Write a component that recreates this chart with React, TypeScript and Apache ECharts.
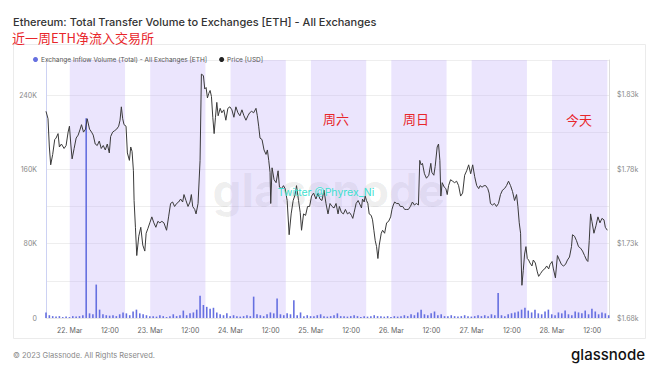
import React, { useEffect, useRef } from 'react';
import * as echarts from 'echarts';

// hours counted from 21 Mar 00:00
const START_HOUR = 16.9;
const AXIS_MIN_HOUR = 16.9;
const AXIS_MAX_HOUR = 185;
const xTickHours = [24, 36, 48, 60, 72, 84, 96, 108, 120, 132, 144, 156, 168, 180];
const leftTickValues = [0, 80, 160, 240];
const rightTickValues = [1680, 1730, 1780, 1830];
const shadedDays = [1, 2, 3, 4, 5, 6, 7];
const SHADE_HOURS = 16.5;

const inflowName = 'Exchange Inflow Volume (Total) - All Exchanges [ETH]';
const priceName = 'Price [USD]';

// [hours after data start, price USD]
const priceSeries: number[][] = [
  [0,1819],[0.6,1814],[1,1795],[1.4,1783],[2,1790],[2.6,1800],[3,1801],[3.6,1804],[4,1795],[4.6,1797],[5.4,1794],[6,1796],[6.6,1805],[7,1809],[7.4,1797],[7.8,1787],[8.4,1794],[9,1801],[9.6,1803],[10.2,1807],[10.6,1810],[11.2,1805],[11.8,1807],[12.3,1814],[13,1807],[13.6,1805],[14.1,1803],[14.7,1797],[15.3,1796],[15.9,1799],[16.5,1794],[17.1,1796],[17.7,1793],[18.3,1797],[18.9,1791],[19.3,1802],[19.9,1805],[20.5,1806],[21.1,1807],[21.7,1809],[22.1,1813],[22.5,1822],[22.9,1814],[23.3,1810],[23.9,1809],[24.3,1791],[24.9,1786],[25.3,1795],[25.7,1792],[26.1,1779],[26.3,1759],[26.7,1741],[27.1,1722],[27.7,1735],[28.3,1741],[28.9,1729],[29.5,1725],[29.9,1737],[30.4,1740],[31,1744],[31.6,1748],[32.2,1744],[32.8,1741],[33.4,1745],[34,1744],[34.6,1745],[35.2,1744],[36,1739],[36.6,1748],[37.2,1757],[37.8,1758],[38.4,1755],[39,1757],[39.6,1758],[40.2,1760],[40.8,1758],[41.2,1763],[41.8,1759],[42.4,1755],[43,1758],[43.4,1763],[43.8,1755],[44.4,1753],[44.8,1750],[45.4,1757],[46,1786],[46.4,1844],[47,1843],[47.4,1834],[47.8,1835],[48.2,1828],[48.6,1831],[49,1833],[49.4,1829],[49.8,1815],[50.2,1804],[50.6,1815],[51,1825],[51.4,1816],[52,1821],[52.5,1818],[53.1,1820],[53.7,1813],[54.3,1821],[54.9,1822],[55.5,1820],[56.1,1815],[56.7,1822],[57.3,1818],[57.9,1816],[58.5,1820],[59.1,1816],[59.7,1813],[60.3,1816],[60.8,1818],[61.4,1819],[62,1818],[62.7,1821],[63.1,1816],[63.5,1809],[63.9,1801],[64.5,1800],[65.1,1793],[65.7,1790],[66.1,1793],[66.5,1786],[66.9,1778],[67.1,1757],[67.5,1781],[68.1,1773],[68.7,1771],[69.3,1779],[69.7,1768],[70.3,1767],[70.9,1769],[71.4,1767],[72,1759],[72.6,1736],[73.2,1750],[73.8,1759],[74.4,1763],[74.8,1769],[75.4,1759],[75.9,1751],[76.3,1739],[76.9,1750],[77.5,1749],[78.1,1755],[78.7,1755],[79.3,1762],[79.9,1764],[80.6,1760],[81.2,1764],[81.8,1760],[82.4,1759],[83,1766],[83.6,1757],[84.2,1750],[84.8,1757],[85.4,1755],[86,1754],[86.6,1757],[87.2,1750],[87.6,1755],[88.2,1751],[88.8,1750],[89.4,1753],[90,1750],[90.6,1751],[91.2,1749],[91.6,1747],[92,1751],[92.6,1757],[93.2,1759],[93.8,1756],[94.2,1754],[94.5,1760],[95,1758],[95.3,1762],[95.7,1759],[96.1,1757],[96.5,1750],[97.1,1749],[97.5,1746],[97.9,1739],[98.3,1732],[98.7,1728],[99.1,1720],[99.5,1729],[100.1,1737],[100.5,1739],[101.1,1737],[101.7,1744],[102.3,1745],[102.9,1748],[103.3,1753],[103.7,1756],[104.1,1758],[104.7,1757],[105.3,1757],[105.8,1755],[106.5,1755],[107.1,1753],[107.7,1753],[108.2,1753],[108.8,1755],[109.4,1758],[110,1756],[110.6,1757],[111.2,1756],[111.6,1786],[112,1783],[112.4,1784],[113,1777],[113.6,1774],[114.3,1776],[114.9,1784],[115.2,1778],[115.8,1776],[116.2,1782],[116.8,1795],[117.2,1797],[117.6,1786],[117.9,1762],[118.3,1771],[118.9,1768],[119.4,1767],[119.8,1763],[120.2,1769],[120.8,1773],[121.4,1772],[122,1771],[122.6,1772],[123.2,1769],[123.8,1762],[124.4,1764],[125,1776],[125.6,1779],[126.2,1783],[126.8,1777],[127.4,1783],[128,1775],[128.6,1769],[129.2,1767],[129.6,1769],[130.2,1768],[130.8,1769],[131.3,1769],[131.9,1767],[132.3,1764],[132.7,1757],[133.3,1756],[133.9,1757],[134.5,1755],[135.1,1757],[135.7,1763],[136.3,1766],[136.9,1767],[137.5,1769],[138.1,1772],[138.7,1769],[139.3,1765],[139.9,1759],[140.5,1763],[140.9,1755],[141.3,1744],[141.7,1737],[141.9,1717],[142.1,1702],[142.5,1712],[142.9,1723],[143.3,1728],[143.7,1720],[144.1,1719],[144.5,1717],[145.1,1715],[145.5,1719],[146.1,1717],[146.7,1711],[147.1,1708],[147.7,1710],[148.3,1712],[148.9,1713],[149.5,1715],[150.1,1713],[150.5,1716],[151.1,1718],[151.5,1713],[152.1,1707],[152.7,1722],[153.3,1719],[153.9,1716],[154.5,1715],[155.1,1716],[155.7,1719],[156.3,1721],[156.9,1728],[157.2,1736],[157.8,1735],[158.4,1732],[159,1728],[159.6,1727],[160.2,1725],[160.8,1722],[161.4,1719],[161.8,1718],[162.2,1732],[162.6,1750],[163,1745],[163.6,1737],[164.2,1742],[164.8,1748],[165.4,1744],[166,1747],[166.6,1746],[167,1741],[167.6,1739]
];

// hourly exchange inflow, thousands of ETH
const inflowK: number[] = [
  6, 3, 2, 1.5, 2, 1, 1.5, 1, 2, 1.5,
  2, 3, 215, 5, 4, 36, 9, 4, 3, 2.5,
  3, 2, 4, 6, 5, 3, 7, 9, 5, 4,
  3, 2, 2, 1.5, 3, 2, 1, 2, 4, 2,
  3, 8, 3, 5, 6, 9, 24, 14, 12, 10,
  11, 6, 4, 3, 5, 2, 3, 2, 1.5, 2,
  3, 2, 23, 4, 3, 2, 4, 6, 5, 21,
  4, 3, 5, 4, 19, 3, 6, 2, 3, 2,
  2, 3, 4, 2, 1.5, 2, 3, 5, 2, 2,
  1.5, 2, 3, 2, 1, 2, 1.5, 2, 3, 2,
  2, 1.5, 2, 1, 2, 1.5, 2, 3, 2, 4,
  3, 6, 9, 4, 3, 5, 7, 3, 4, 2,
  2, 3, 2, 1.5, 2, 3, 2, 1.5, 2, 3,
  2, 3, 2, 4, 3, 27, 3, 2, 4, 5,
  6, 7, 9, 11, 8, 6, 9, 5, 4, 7,
  9, 4, 3, 6, 5, 8, 4, 3, 7, 6,
  5, 8, 4, 10, 7, 4, 6, 5, 3
];

const dayLabels = [
  { text: '周六', x: 336, y: 118 },
  { text: '周日', x: 416, y: 118 },
  { text: '今天', x: 579, y: 119 },
];

const FONT = 'Inter, "Noto Sans", sans-serif';
const CJK = '"Noto Sans CJK SC", sans-serif';

export default function App() {
  const ref = useRef<HTMLDivElement>(null);
  useEffect(() => {
    if (!ref.current) return;
    const chart = echarts.init(ref.current, undefined, { renderer: 'svg' });
    const priceData = priceSeries.map(([h, p]) => [START_HOUR + h, p]);
    const inflowData = inflowK.map((v, i) => [START_HOUR + i, v]);
    const option: any = {
      animation: false,
      backgroundColor: '#ffffff',
      textStyle: { fontFamily: FONT },
      grid: { left: 46, right: 51, top: 60, bottom: 54, containLabel: false },
      legend: {
        left: 28,
        top: 51,
        icon: 'circle',
        itemWidth: 5,
        itemHeight: 5,
        itemGap: 12,
        textStyle: { fontSize: 6.5, color: '#555', fontFamily: FONT, padding: [0, 0, 0, -2] },
        data: [inflowName, priceName],
      },
      xAxis: {
        type: 'value',
        min: AXIS_MIN_HOUR,
        max: AXIS_MAX_HOUR,
        splitLine: { show: false },
        axisTick: { show: false },
        axisLine: { show: true, lineStyle: { color: '#e8e8e8' } },
        axisLabel: {
          customValues: xTickHours,
          fontSize: 7,
          color: '#666',
          margin: 9,
          formatter: (v: number) => (v % 24 === 0 ? `${21 + v / 24}. Mar` : '12:00'),
        },
      },
      yAxis: [
        {
          type: 'value',
          min: 0,
          max: 277.8,
          interval: 40,
          axisLine: { show: true, lineStyle: { color: '#cdd2f3' } },
          axisTick: { show: false },
          splitLine: { show: true, lineStyle: { color: '#eeeeee', width: 1 } },
          axisLabel: {
            customValues: leftTickValues,
            fontSize: 7,
            color: '#888',
            margin: 9,
            formatter: (v: number) => (v === 0 ? '0' : `${v}K`),
          },
        },
        {
          type: 'value',
          min: 1680,
          max: 1853.5,
          position: 'right',
          axisLine: { show: true, lineStyle: { color: '#dddddd' } },
          axisTick: { show: false },
          splitLine: { show: false },
          axisLabel: {
            customValues: rightTickValues,
            fontSize: 7,
            color: '#888',
            margin: 8,
            formatter: (v: number) => `$${(v / 1000).toFixed(2)}k`,
          },
        },
      ],
      series: [
        {
          type: 'line',
          data: [],
          xAxisIndex: 0,
          yAxisIndex: 0,
          z: 0,
          silent: true,
          markArea: {
            silent: true,
            itemStyle: { color: 'rgba(188,168,250,0.30)' },
            data: shadedDays.map((d) => [{ xAxis: d * 24 }, { xAxis: d * 24 + SHADE_HOURS }]),
          },
        },
        {
          name: inflowName,
          type: 'bar',
          data: inflowData,
          xAxisIndex: 0,
          yAxisIndex: 0,
          barWidth: 1.6,
          z: 2,
          itemStyle: { color: '#6670e0' },
        },
        {
          name: priceName,
          type: 'line',
          data: priceData,
          xAxisIndex: 0,
          yAxisIndex: 1,
          symbol: 'none',
          z: 3,
          lineStyle: { color: '#3a3a3a', width: 1 },
          itemStyle: { color: '#222' },
        },
      ],
      graphic: [
        {
          type: 'rect',
          z: -1,
          shape: { x: 13.5, y: 44.5, width: 632, height: 294 },
          style: { fill: 'none', stroke: '#ebebeb', lineWidth: 1 },
        },
        {
          type: 'text',
          x: 13,
          y: 16,
          style: {
            text: 'Ethereum: Total Transfer Volume to Exchanges [ETH] - All Exchanges',
            font: `500 11px ${FONT}`,
            fill: '#333',
          },
        },
        {
          type: 'text',
          x: 12,
          y: 31,
          style: { text: '近一周ETH净流入交易所', font: `13px ${CJK}`, fill: '#e8262b' },
        },
        {
          type: 'text',
          x: 329,
          y: 190,
          z: 1,
          style: {
            text: 'glassnode',
            font: `bold 46px ${FONT}`,
            fill: 'rgba(0,0,0,0.07)',
            align: 'center',
            verticalAlign: 'middle',
          },
        },
        {
          type: 'text',
          x: 326,
          y: 192,
          z: 10,
          style: {
            text: 'Twitter @Phyrex_Ni',
            font: `10.5px ${FONT}`,
            fill: '#3ee0cf',
            align: 'center',
            verticalAlign: 'middle',
          },
        },
        ...dayLabels.map((d) => ({
          type: 'text',
          x: d.x,
          y: d.y,
          z: 10,
          style: {
            text: d.text,
            font: `13px ${CJK}`,
            fill: '#e8262b',
            align: 'center',
            verticalAlign: 'middle',
          },
        })),
        {
          type: 'text',
          x: 13,
          y: 355,
          style: {
            text: '© 2023 Glassnode. All Rights Reserved.',
            font: `7.5px ${FONT}`,
            fill: '#888',
            verticalAlign: 'middle',
          },
        },
        {
          type: 'text',
          x: 645,
          y: 354,
          style: {
            text: 'glassnode',
            font: `500 15px ${FONT}`,
            fill: '#111',
            align: 'right',
            verticalAlign: 'middle',
          },
        },
      ],
    };
    chart.setOption(option);
    return () => chart.dispose();
  }, []);
  return (
    <div
      ref={ref}
      style={{ position: 'fixed', left: 0, top: 0, width: 660, height: 372, background: '#fff' }}
    />
  );
}
